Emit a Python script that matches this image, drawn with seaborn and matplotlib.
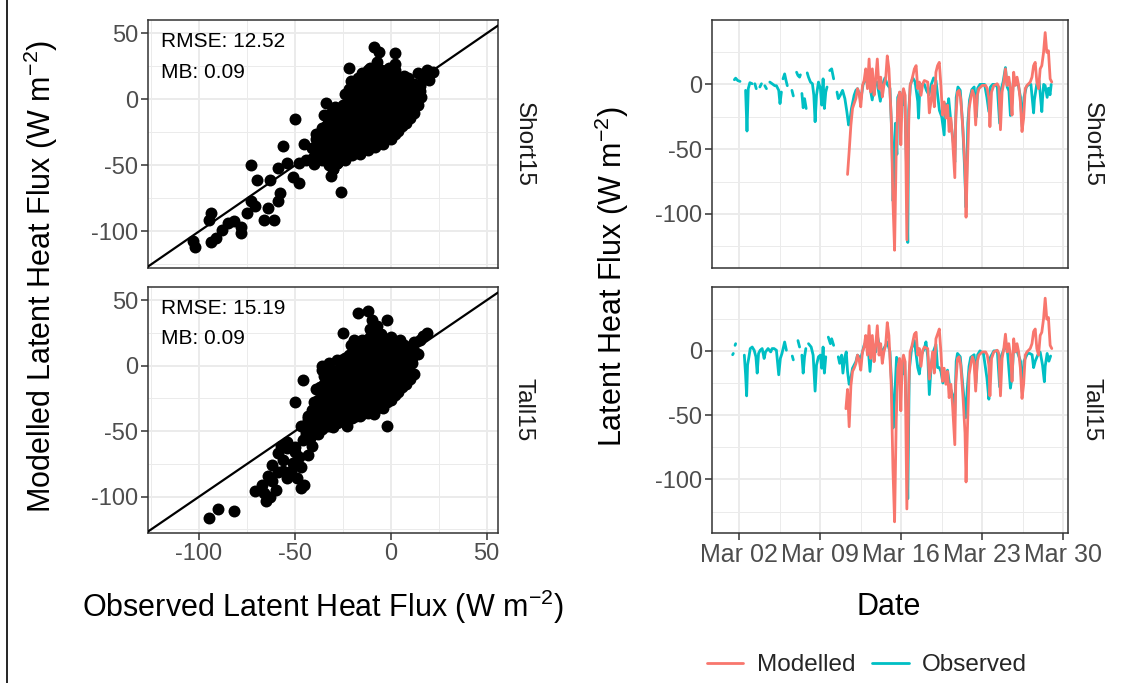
import numpy as np
import pandas as pd
import matplotlib
matplotlib.use("Agg")
import matplotlib.pyplot as plt
import matplotlib.dates as mdates
from matplotlib.lines import Line2D
from matplotlib.ticker import MultipleLocator, FixedLocator
import seaborn as sns

# ---------------- data ----------------
panels = ["Short15", "Tall15"]
series_names = ["Modelled", "Observed"]
rmse_vals = [12.52, 15.19]
mb_vals = [0.09, 0.09]

# scatter: observed (x) vs modelled (y), Short15 -- outer points
short_obs = [-102, -103, -94, -94, -95, -91, -88, -85, -82, -78, -78, -73, -75, -71, -66, -64, -61, -59, -58,
             -73, -70, -63, -59, -56, -54, -50, -51, -48, -48, -45, -44, -40, -38, -34, -35, -31, -30, -26, -28,
             -24, -22, -22, -19, -17, -16, -12, -9, -6, 2, -2, 0, 5, 7, 9, 12, 15, 18, 22, 19, -5, -10, -26, -17,
             -5, -9, -12, 2, 3, 8, -30, -28, 14, 17, 20]
short_mod = [-112, -107, -108, -86, -91, -105, -99, -94, -92, -101, -97, -77, -86, -81, -91, -82, -91, -77, -71,
             -50, -61, -61, -52, -35, -48, -15, -59, -63, -48, -34, -46, -49, -26, -3, -34, -58, -53, -70, -48,
             -46, -38, 24, -13, -28, -41, 2, 40, 36, 35, 22, -8, -6, 18, 0, -3, 6, 19, 21, 22, -33, -23, -16, -3,
             10, 15, 22, 27, 13, -2, -53, -48, 20, 18, 15]
# Short15 dense core
short_core_obs = [-40, -41, -39, -36, -37, -35, -36, -32, -33, -31, -32, -33, -31, -28, -29, -27, -28, -29, -27,
                  -24, -25, -23, -24, -25, -23, -24, -20, -21, -19, -20, -21, -19, -20, -21,
                  -16, -17, -15, -16, -17, -15, -16, -17, -12, -13, -11, -12, -13, -11, -12, -13, -11,
                  -8, -9, -7, -8, -9, -7, -8, -9, -7, -4, -5, -3, -4, -5, -3, -4, -5,
                  0, -1, 1, 0, -1, 1, 0, -1, 4, 3, 5, 4, 3, 5, 8, 7, 9, 8, 7, 12, 11, 13, 12, 16, 15]
short_core_mod = [-44, -37, -30, -46, -38, -30, -22, -50, -42, -34, -26, -18, -10, -48, -40, -32, -24, -16, -8,
                  -44, -36, -28, -20, -12, -4, 4, -42, -34, -26, -18, -10, -2, 6, 14,
                  -40, -32, -24, -16, -8, 0, 8, 16, -38, -30, -22, -14, -6, 2, 10, 18, 24,
                  -36, -28, -20, -12, -4, 4, 12, 20, 28, -34, -26, -18, -10, -2, 6, 14, 22,
                  -30, -22, -14, -6, 2, 10, 18, 24, -24, -16, -8, 0, 8, 16, -18, -10, -2, 6, 14, -10, -2, 6, 12, 2, 10]
short_fill_obs = [-38, -37, -39, -34, -35, -33, -34, -35, -30, -31, -29, -30, -31, -29,
                  -26, -27, -25, -26, -27, -25, -22, -23, -21, -22, -23, -21, -22,
                  -18, -19, -17, -18, -19, -17, -18, -14, -15, -13, -14, -15, -13, -14, -15,
                  -10, -11, -9, -10, -11, -9, -10, -11, -6, -7, -5, -6, -7, -5, -6, -7,
                  -2, -3, -1, -2, -3, -1, -2, 2, 1, 3, 2, 1, 3, 2, 6, 5, 7, 6, 5, 10, 9, 11, 10, 9, 14, 13, 15]
short_fill_mod = [-40, -33, -26, -44, -36, -28, -20, -12, -46, -38, -30, -22, -14, -6,
                  -44, -36, -28, -20, -12, -4, -40, -32, -24, -16, -8, 0, 8,
                  -38, -30, -22, -14, -6, 2, 10, -36, -28, -20, -12, -4, 4, 12, 20,
                  -34, -26, -18, -10, -2, 6, 14, 22, -32, -24, -16, -8, 0, 8, 16, 24,
                  -28, -20, -12, -4, 4, 12, 20, -26, -18, -10, -2, 6, 14, 22, -20, -12, -4, 4, 12,
                  -14, -6, 2, 10, 16, -4, 4, 12]

# scatter: Tall15 -- outer points
tall_obs = [-95, -90, -82, -71, -67, -65, -63, -64, -62, -59, -56, -54, -47, -49, -45, -51, -47, -50, -54, -59,
            -54, -50, -46, -57, -44, -47, -50, -46, -40, -37, -35, -36, -33, -30, -26, -23, -25, -17, -12, -10,
            -2, -2, -12, -9, 2, 9, 14, 12, 17, 15, 19, 7, 5, -3, -9, -17, -19,
            -43, -45, -42, -38, -33, -30, -28, -48, -43, -41, -52, -56, -62, -66, -60]
tall_mod = [-116, -109, -111, -96, -91, -103, -100, -84, -76, -81, -80, -86, -93, -86, -91, -74, -77, -66, -63, -67,
            -58, -62, -57, -61, -51, -46, -28, -11, -48, -36, -23, -3, -16, -9, -41, -46, 25, 40, 42, 35,
            35, -46, -33, -37, -16, -3, 9, 18, 23, 20, 25, 15, 2, -23, -23, 15, 20,
            -40, -47, -55, -52, -45, -47, -43, -70, -68, -61, -80, -72, -88, -97, -95]
# Tall15 dense core
tall_core_obs = [-44, -45, -43, -40, -41, -39, -40, -36, -37, -35, -36, -37, -35, -36,
                 -32, -33, -31, -32, -33, -31, -32, -28, -29, -27, -28, -29, -27, -28,
                 -24, -25, -23, -24, -25, -23, -24, -20, -21, -19, -20, -21, -19, -20, -21,
                 -16, -17, -15, -16, -17, -15, -16, -17, -12, -13, -11, -12, -13, -11, -12, -13, -11,
                 -8, -9, -7, -8, -9, -7, -8, -9, -7, -4, -5, -3, -4, -5, -3, -4, -5,
                 0, -1, 1, 0, -1, 1, 0, 4, 3, 5, 4, 3, 5, 8, 7, 9, 8, 7, 12, 11, 13]
tall_core_mod = [-54, -46, -38, -52, -44, -36, -28, -48, -40, -32, -24, -16, -8, 0,
                 -46, -38, -30, -22, -14, -6, 2, -44, -36, -28, -20, -12, -4, 4,
                 -42, -34, -26, -18, -10, -2, 6, -40, -32, -24, -16, -8, 0, 8, 16,
                 -38, -30, -22, -14, -6, 2, 10, 18, -36, -28, -20, -12, -4, 4, 12, 20, 28,
                 -34, -26, -18, -10, -2, 6, 14, 22, 30, -32, -24, -16, -8, 0, 8, 16, 24,
                 -26, -18, -10, -2, 6, 14, 22, -20, -12, -4, 4, 12, 20, -14, -6, 2, 10, 16, -6, 2, 10]
tall_fill_obs = [-42, -43, -41, -38, -39, -37, -38, -39, -34, -35, -33, -34, -35, -33,
                 -30, -31, -29, -30, -31, -29, -26, -27, -25, -26, -27, -25, -26,
                 -22, -23, -21, -22, -23, -21, -22, -18, -19, -17, -18, -19, -17, -18, -19,
                 -14, -15, -13, -14, -15, -13, -14, -15, -10, -11, -9, -10, -11, -9, -10, -11,
                 -6, -7, -5, -6, -7, -5, -6, -7, -2, -3, -1, -2, -3, -1, -2,
                 2, 1, 3, 2, 1, 3, 6, 5, 7, 6, 5, 10, 9, 11, 10]
tall_fill_mod = [-50, -42, -34, -50, -42, -34, -26, -18, -46, -38, -30, -22, -14, -6,
                 -44, -36, -28, -20, -12, -4, -42, -34, -26, -18, -10, -2, 4,
                 -40, -32, -24, -16, -8, 0, 8, -38, -30, -22, -14, -6, 2, 10, 18,
                 -36, -28, -20, -12, -4, 4, 12, 20, -34, -26, -18, -10, -2, 6, 14, 22,
                 -30, -22, -14, -6, 2, 10, 18, 26, -28, -20, -12, -4, 4, 12, 20,
                 -22, -14, -6, 2, 10, 18, -16, -8, 0, 8, 14, -10, -2, 6, 12]

# time series (day of March, latent heat flux); NaN marks a gap in the record
obs_short_day = [1.6, 1.71, 1.89, 2.09, 2.2, 2.57, 2.69, 2.8, 2.94, 3.14, 3.25, 3.37, 3.49, 3.6, 3.8, 3.94, 4.05,
                 4.23, 4.37, 4.5, 4.66, 4.86, 5.09, 5.23, 5.43, 5.54, 5.66, 5.72, 5.8, 5.94, 6.06, 6.17, 6.3,
                 6.57, 6.69, 6.8, 6.97, 7.09, 7.23, 7.3, 7.37, 7.43, 7.54, 7.66, 7.8, 7.85, 7.89, 8.0, 8.17,
                 8.34, 8.46, 8.57, 8.69, 8.86, 9.03, 9.14, 9.26, 9.37, 9.49, 9.6, 9.7, 9.83, 10.0, 10.17, 10.3,
                 10.46, 10.57, 10.74, 10.94, 11.14, 11.31, 11.46, 11.6, 11.71, 11.94, 12.09, 12.23,
                 12.4, 12.51, 12.71, 12.9, 13.1, 13.3, 13.5, 13.7, 13.9, 14.2, 14.4, 14.6, 14.8, 15.03, 15.2,
                 15.3, 15.4, 15.5, 15.63, 15.7, 15.9, 16.1, 16.3, 16.45, 16.57, 16.65, 16.8, 17.0, 17.2, 17.43,
                 17.5, 17.6, 17.8, 18.0, 18.2, 18.4, 18.6, 18.8, 19.0, 19.3, 19.5, 19.71, 19.8, 20.0, 20.1,
                 20.3, 20.5, 20.63, 20.75, 20.9, 21.1, 21.3, 21.45, 21.6, 21.75, 21.9, 22.1, 22.3, 22.5, 22.6,
                 22.8, 23.0, 23.2, 23.4, 23.57, 23.7, 23.9, 24.1, 24.3, 24.5, 24.6, 24.8, 25.0, 25.15, 25.3,
                 25.43, 25.57, 25.7, 25.9, 26.1, 26.3, 26.45, 26.6, 26.8, 27.0, 27.2, 27.43, 27.5, 27.7, 27.9,
                 28.14, 28.2, 28.3, 28.43, 28.6, 28.71, 28.85, 28.95]
obs_short_val = [3.6, 4.8, 3, 2.3, np.nan, -4.6, -36, -3.3, 1.3, 0.5, np.nan, 0.5, -3.3, np.nan, -2, 0.5, np.nan,
                 -1, -3.3, np.nan, 1.8, 0.5, -1, -1, -4.6, -14.8, -5.9, np.nan, 4.3, 8.1, 3, -1, np.nan,
                 -4.6, -8.9, np.nan, 9.4, 6.9, 5.6, 7.4, np.nan, -7, -18, -11, -18.6, np.nan, 8.9, 5.6, 1.8,
                 0.5, -8.4, -28.8, -8.4, 1.8, -3.3, -16, 4.3, -18.6, -5.9, -2, np.nan, 10.7, 12, 4.3, np.nan,
                 -5.9, -11, -8.4, -4.6, -11, -21, -31.3, -26, -18.6, -8.4, -4.6, -3.3,
                 -8, -12, 0, 3, 7, -2, -12, 0, 2, -13, 0, 5, 0, -3, -40,
                 -90, -60, -30, -54, -10, -6, -16, -8, -60, -122, -20, 0, 5, 2, -13,
                 -26, -5, 0, 0, -5, -8, 0, 5, 3, -20, -25, -39, -15, -19, -11,
                 -30, -45, -60, -10, -2, -4.6, -30, -60, -95, -30, -12, -4, -2, -25, -3,
                 0, 0, 0, -10, -21, -2, 0, 0, -2, -30, -5, 2, 13, -2, -5,
                 -24, -13, 5, 0, 0, -10, -33, -10, -2, 0, 0, -22, -12, 0, 3,
                 -21, -11, 0, -1, -10, -3, -8, 0]

mod_short_day = [11.37, 11.51, 11.66, 11.8, 11.94, 12.09, 12.23, 12.37, 12.51, 12.66, 12.8, 12.94, 13.09, 13.23,
                 13.37, 13.51, 13.66, 13.8, 13.94, 14.09, 14.23, 14.37, 14.51, 14.66, 14.8, 14.94, 15.14, 15.29,
                 15.43, 15.57, 15.71, 15.86, 15.97, 16.09, 16.2, 16.34, 16.49, 16.66, 16.77, 16.91, 17.14, 17.29,
                 17.43, 17.57, 17.71, 17.86, 18.0, 18.29, 18.43, 18.57, 18.71, 18.86, 19.0, 19.14, 19.29, 19.43,
                 19.57, 19.71, 19.86, 20.0, 20.14, 20.29, 20.43, 20.63, 20.71, 20.86, 21.0, 21.14, 21.34, 21.51,
                 21.6, 21.71, 21.86, 22.0, 22.14, 22.29, 22.43, 22.57, 22.71, 23.0, 23.29, 23.43, 23.57, 23.66,
                 23.8, 24.0, 24.29, 24.43, 24.57, 24.71, 24.86, 25.0, 25.14, 25.29, 25.43, 25.57, 25.71, 25.86,
                 26.0, 26.14, 26.29, 26.43, 26.57, 26.71, 26.86, 27.0, 27.14, 27.29, 27.43, 27.57, 27.71, 27.86,
                 28.0, 28.14, 28.29, 28.43, 28.57, 28.71, 28.86, 29.0]
mod_short_val = [-69.5, -51.7, -31.3, -18.6, -14.8, -10.9, -3.3, -7.1, -17.3, -0.8, 3, 12, -3.3, 19.6,
                 -5.9, 12, -8.4, 4.3, 19.6, -3.3, 5.6, -9.7, -0.8, 4.3, 22, 12, -26, -90,
                 -128, -52, -13.5, -5.9, -46.6, -8.4, -3.3, -8.4, -120, -26, -0.8, 3, 12, 14.5,
                 -3.3, 1.8, -8.4, 0.5, 3, 1.8, -22, -13.5, -0.8, -17.3, 9.4, 14.5, 17, -0.8,
                 -23.7, -13.5, -26, -16, -36.4, -26, -41.5, -72, -26, -5.9, -4.6, -11, -36.4, -64,
                 -102.5, -64, -18.6, -11, -4.6, -8.4, -31.3, -8.4, -3.3, -0.8, -0.8, -3.3, -11, -32.6,
                 -5.9, -0.8, 0.5, -2, -35, -5.9, 1.8, 12, -0.8, 5.6, -3.3, -23.7, 9.4, -0.8,
                 5.6, -0.8, -13.5, -36.4, -26, -3.3, -0.8, 0.5, 1.8, 5.6, 14.5, 17, 1.8, -3.3,
                 12, 14.5, 24.7, 40, 24.7, 26, 4.3, 1.8]

obs_tall_day = [1.03, 1.1, 1.45, 1.51, 1.55, 1.66, 1.71, 1.8, 2.46, 2.57, 2.66, 2.74, 2.86, 2.97, 3.14, 3.31,
                3.46, 3.57, 3.69, 3.83, 4.0, 4.17, 4.29, 4.51, 4.74, 4.86, 5.03, 5.23, 5.43, 5.57, 5.71, 5.94,
                6.09, 6.2, 6.6, 6.69, 6.75, 7.09, 7.23, 7.3, 7.43, 7.54, 7.66, 7.77, 7.85, 8.0, 8.23, 8.4,
                8.57, 8.69, 8.86, 9.03, 9.14, 9.26, 9.37, 9.49, 9.6, 9.71, 9.89, 10.0, 10.17, 10.3, 10.57,
                10.69, 10.86, 10.97, 11.14, 11.26, 11.37, 11.51, 11.66, 11.8, 12.09, 12.23, 12.51, 12.8, 13.09,
                13.31, 13.51, 13.8, 13.94, 14.23, 14.51, 14.8, 15.03, 15.2, 15.3, 15.45, 15.6, 15.86, 16.14,
                16.3, 16.45, 16.57, 16.7, 16.9, 17.14, 17.43, 17.57, 17.75, 18.0, 18.14, 18.3, 18.43, 18.6,
                18.8, 19.0, 19.14, 19.29, 19.43, 19.6, 19.8, 20.0, 20.2, 20.43, 20.6, 20.75, 20.86, 21.1, 21.3,
                21.45, 21.57, 21.7, 21.86, 22.0, 22.3, 22.45, 22.6, 22.8, 23.1, 23.4, 23.57, 23.7, 24.0, 24.3,
                24.5, 24.6, 24.9, 25.0, 25.2, 25.43, 25.57, 25.7, 26.0, 26.3, 26.45, 26.6, 26.9, 27.1, 27.3,
                27.43, 27.57, 27.8, 28.0, 28.2, 28.36, 28.43, 28.6, 28.75, 28.9]
obs_tall_val = [7.4, np.nan, -3, -2, np.nan, 4.3, 5.6, np.nan, -3.3, -18.6, -35, -11, -4.6, 1.8, 3, 0.5,
                -4.6, -17.3, -2, 0.5, 1.8, -5.9, -0.8, 1.8, -0.8, 1.8, 1.8, 0.5, -18.6, -5.9, -2, 6.9,
                0.5, np.nan, -4, -7, np.nan, 8, 3, np.nan, -3.3, -17.3, -4.6, 1.8, np.nan, 5.6, 3, -3.3,
                -31.3, -11, -4.6, -3.3, -13.5, 3, -17.3, -4.6, np.nan, 10.7, 5.6, 9.4, 4.3, np.nan, -4.6,
                -9.7, -3.3, -17.3, -4.6, -0.8, -16, -26, -21, -13.5, -8.4, -3.3, -5.9, 4.3, 9.4,
                -16, 6.9, -0.8, 12, -0.8, 1.8, 6.9, -0.8, -30, -60, -35, -5, -10, -18,
                -8, -50, -115, -15, 2, 8, -13, -18, -3, 2, 7, -5, -34, -10,
                0, 5, -13, -13, -16, -25, -20, -15, -28, -34, -55, -8, -2, -4.6, -25,
                -40, -52, -30, -12, -5, -3, -25, -3, 0, -2, -21, -37.6, -5, 0, 0,
                -28, -5, 2, 8, -3, -29, -20, 2, 0, -8, -32, -8, -2, -2, -3,
                -13, -8, -3, -1, -11, -24, -12, -2, -8, -4]

mod_tall_day = [11.23, 11.37, 11.51, 11.66, 11.8, 11.94, 12.09, 12.23, 12.37, 12.51, 12.66, 12.8, 12.94, 13.09,
                13.23, 13.37, 13.51, 13.66, 13.8, 13.94, 14.09, 14.23, 14.37, 14.51, 14.66, 14.8, 14.94, 15.14,
                15.29, 15.43, 15.57, 15.71, 15.86, 15.97, 16.09, 16.2, 16.34, 16.49, 16.66, 16.77, 16.91, 17.14,
                17.29, 17.43, 17.57, 17.71, 17.86, 18.0, 18.29, 18.43, 18.57, 18.71, 18.86, 19.0, 19.14, 19.29,
                19.43, 19.57, 19.71, 19.86, 20.0, 20.14, 20.29, 20.43, 20.63, 20.71, 20.86, 21.0, 21.14, 21.34,
                21.51, 21.6, 21.71, 21.86, 22.0, 22.14, 22.29, 22.43, 22.57, 22.71, 23.0, 23.29, 23.43, 23.57,
                23.66, 23.8, 24.0, 24.29, 24.43, 24.57, 24.71, 24.86, 25.0, 25.14, 25.29, 25.43, 25.57, 25.71,
                25.86, 26.0, 26.14, 26.29, 26.43, 26.57, 26.71, 26.86, 27.0, 27.14, 27.29, 27.43, 27.57, 27.71,
                27.86, 28.0, 28.14, 28.29, 28.43, 28.57, 28.71, 28.86, 29.0]
mod_tall_val = [-45, -30, -59, -27, -16, -13.5, -10, -3.3, -7.1, -15, -0.8, 3, 12, -3.3,
                19.6, -5.9, 12, -8.4, 4.3, 19.6, -3.3, 5.6, -9.7, -0.8, 4.3, 22, 12, -26,
                -92, -133, -55, -13.5, -5.9, -46.6, -8.4, -3.3, -8.4, -123, -26, -0.8, 3, 13,
                14.5, -3.3, 1.8, -12, 0.5, 3, 1.8, -22, -13.5, -0.8, -17.3, 9.4, 13, 17,
                -0.8, -23.7, -13.5, -26, -16, -36.4, -26, -41.5, -73, -26, -5.9, -4.6, -11, -36.4,
                -64, -102, -64, -18.6, -11, -4.6, -8.4, -31.3, -8.4, -3.3, -0.8, -0.8, -3.3, -11,
                -35, -5.9, -0.8, 0.5, -2, -35, -5.9, 1.8, 13, -0.8, 5.6, -3.3, -23.7, 9.4,
                -0.8, 5.6, -0.8, -13.5, -37, -26, -3.3, -0.8, 0.5, 1.8, 5.6, 15, 17, 1.8,
                -3.3, 12, 14.5, 25, 41, 24.7, 26, 4.3, 1.8]

# ---------------- styling ----------------
sns.set_theme(style="white")
plt.rcParams["font.family"] = ["Liberation Sans", "DejaVu Sans"]
plt.rcParams["axes.unicode_minus"] = False
plt.rcParams["mathtext.default"] = "regular"

COL_MOD = "#F8766D"
COL_OBS = "#00BFC4"
GRID = "#EBEBEB"
BORDER = "#333333"
TICKTXT = "#4D4D4D"

W, H = 1138, 683
fig = plt.figure(figsize=(W / 100, H / 100), dpi=100)


def rect(l, t, r, b):
    return [l / W, 1 - b / H, (r - l) / W, (b - t) / H]


def style(ax, labelsize=17):
    ax.set_facecolor("white")
    for s in ax.spines.values():
        s.set_color(BORDER)
        s.set_linewidth(1.1)
        s.set_visible(True)
    ax.grid(which="major", color=GRID, lw=1.4)
    ax.grid(which="minor", color=GRID, lw=0.7)
    ax.set_axisbelow(True)
    ax.tick_params(which="major", direction="out", length=5, width=1.1, color=BORDER,
                   labelsize=labelsize, labelcolor=TICKTXT, pad=2, left=True, bottom=True)
    ax.tick_params(which="minor", length=0)
    ax.set_xlabel("")
    ax.set_ylabel("")


base = pd.Timestamp("2018-03-01")


def to_dates(days):
    return base + pd.to_timedelta(np.asarray(days, dtype=float) - 1, unit="D")


def segments(days, vals):
    df = pd.DataFrame({"day": days, "val": vals})
    df["seg"] = df["val"].isna().cumsum()
    df = df.dropna().copy()
    df["date"] = to_dates(df["day"].values)
    return df


scatter_data = [(short_obs + short_core_obs + short_fill_obs, short_mod + short_core_mod + short_fill_mod),
                (tall_obs + tall_core_obs + tall_fill_obs, tall_mod + tall_core_mod + tall_fill_mod)]
ts_data = [((obs_short_day, obs_short_val), (mod_short_day, mod_short_val)),
           ((obs_tall_day, obs_tall_val), (mod_tall_day, mod_tall_val))]

rows = [(20, 268), (287, 533)]
major_dates = pd.date_range("2018-03-02", periods=5, freq="7D")
minor_dates = major_dates + pd.Timedelta(hours=84)

for i, (top, bot) in enumerate(rows):
    # ---- scatter panel ----
    ax = fig.add_axes(rect(148, top, 498, bot))
    sx, sy = scatter_data[i]
    sns.scatterplot(x=sx, y=sy, ax=ax, color="black", s=74, linewidth=0, legend=False, zorder=3)
    ax.axline((0, 0), slope=1, color="black", lw=1.6, zorder=4)
    ax.set_xlim(-126.6, 55.9)
    ax.set_ylim(-127.7, 60.1)
    ax.xaxis.set_major_locator(MultipleLocator(50))
    ax.xaxis.set_minor_locator(MultipleLocator(25))
    ax.yaxis.set_major_locator(MultipleLocator(50))
    ax.yaxis.set_minor_locator(MultipleLocator(25))
    style(ax)
    if i == 0:
        ax.tick_params(axis="x", which="both", bottom=False, labelbottom=False)
    ax.text(0.036, 0.9125, f"RMSE: {rmse_vals[i]:.2f}", transform=ax.transAxes, ha="left", va="center",
            fontsize=15, color="black", zorder=5)
    ax.text(0.036, 0.79, f"MB: {mb_vals[i]:.2f}", transform=ax.transAxes, ha="left", va="center",
            fontsize=15, color="black", zorder=5)

    # ---- time series panel ----
    ax2 = fig.add_axes(rect(712, top, 1068, bot))
    (od, ov), (md, mv) = ts_data[i]
    dfo = segments(od, ov)
    dfm = segments(md, mv)
    sns.lineplot(data=dfo, x="date", y="val", units="seg", estimator=None, color=COL_OBS, lw=2.0,
                 ax=ax2, legend=False, zorder=3)
    sns.lineplot(data=dfm, x="date", y="val", units="seg", estimator=None, color=COL_MOD, lw=2.0,
                 ax=ax2, legend=False, zorder=4)
    ax2.set_xlim(to_dates([-0.33])[0], to_dates([30.4])[0])
    ax2.set_ylim(-141.7, 49.7)
    ax2.xaxis.set_major_locator(FixedLocator(mdates.date2num(major_dates)))
    ax2.xaxis.set_minor_locator(FixedLocator(mdates.date2num(minor_dates)))
    ax2.xaxis.set_major_formatter(mdates.DateFormatter("%b %d"))
    ax2.yaxis.set_major_locator(MultipleLocator(50))
    ax2.yaxis.set_minor_locator(MultipleLocator(25))
    style(ax2)
    ax2.tick_params(axis="x", labelsize=18)
    if i == 0:
        ax2.tick_params(axis="x", which="both", bottom=False, labelbottom=False)

    # strip labels
    yc = (top + bot) / 2
    fig.text(524 / W, 1 - yc / H, panels[i], rotation=-90, ha="center", va="center",
             fontsize=17.5, color="#1A1A1A")
    fig.text(1092 / W, 1 - yc / H, panels[i], rotation=-90, ha="center", va="center",
             fontsize=17.5, color="#1A1A1A")

# axis titles
fig.text(41 / W, 1 - 276.5 / H, "Modelled Latent Heat Flux (W m$^{-2}$)", rotation=90,
         ha="center", va="center", fontsize=22, color="black")
fig.text(612 / W, 1 - 276.5 / H, "Latent Heat Flux (W m$^{-2}$)", rotation=90,
         ha="center", va="center", fontsize=22, color="black")
fig.text(323 / W, 1 - 607 / H, "Observed Latent Heat Flux (W m$^{-2}$)",
         ha="center", va="center", fontsize=22, color="black")
fig.text(889 / W, 1 - 607 / H, "Date", ha="center", va="center", fontsize=22, color="black")

# legend
handles = [Line2D([], [], color=COL_MOD, lw=2), Line2D([], [], color=COL_OBS, lw=2)]
fig.legend(handles, series_names, loc="center", bbox_to_anchor=(867 / W, 1 - 665 / H), ncol=2,
           frameon=False, fontsize=17.5, handlelength=1.5, handletextpad=0.55, columnspacing=0.7)

# page border line at the left
fig.add_artist(Line2D([7 / W, 7 / W], [0, 1], color="black", lw=1.2, transform=fig.transFigure))

fig.savefig("out.png", dpi=100, facecolor="white")
